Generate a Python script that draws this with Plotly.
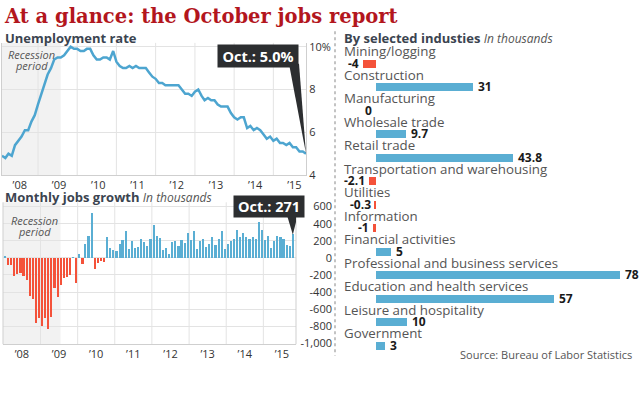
import pandas as pd
import plotly.graph_objects as go

# ---------------- data ----------------
months = pd.date_range("2008-01-01", "2015-10-01", freq="MS")

unemployment_rate = [
    4.9, 4.8, 5.0, 4.9, 5.4, 5.6, 5.8, 6.1, 6.1, 6.5, 6.8, 7.3,      # 2008
    7.8, 8.3, 8.7, 9.0, 9.4, 9.5, 9.5, 9.6, 9.8, 10.0, 9.9, 9.9,     # 2009
    9.8, 9.8, 9.9, 9.9, 9.6, 9.4, 9.4, 9.5, 9.5, 9.4, 9.8, 9.3,      # 2010
    9.1, 9.0, 9.0, 9.1, 9.0, 9.1, 9.0, 9.0, 9.0, 8.8, 8.6, 8.5,      # 2011
    8.3, 8.3, 8.2, 8.2, 8.2, 8.2, 8.2, 8.0, 7.8, 7.8, 7.7, 7.9,      # 2012
    8.0, 7.7, 7.5, 7.6, 7.5, 7.5, 7.3, 7.2, 7.2, 7.2, 6.9, 6.7,      # 2013
    6.6, 6.7, 6.7, 6.2, 6.3, 6.1, 6.2, 6.1, 5.9, 5.7, 5.8, 5.6,      # 2014
    5.7, 5.5, 5.5, 5.4, 5.5, 5.3, 5.3, 5.1, 5.1, 5.0,                # 2015
]

jobs_change = [
    15, -91, -83, -216, -189, -178, -216, -265, -455, -481, -765, -701,   # 2008
    -803, -701, -830, -690, -356, -462, -322, -235, -227, -205, 4, -292,  # 2009
    40, -70, 160, 250, 520, -130, -60, -40, -50, 246, 117, 87,            # 2010
    76, 163, 208, 314, 95, 189, 117, 125, 212, 182, 133, 220,             # 2011
    380, 250, 230, 90, 110, 40, 180, 190, 140, 210, 170, 290,             # 2012
    200, 310, 106, 189, 212, 125, 163, 246, 152, 220, 314, 106,           # 2013
    163, 189, 220, 326, 239, 284, 246, 220, 246, 212, 420, 326,           # 2014
    200, 258, 115, 189, 255, 245, 215, 148, 137, 271,                     # 2015
]

industries = [
    "Mining/logging", "Construction", "Manufacturing", "Wholesale trade",
    "Retail trade", "Transportation and warehousing", "Utilities",
    "Information", "Financial activities", "Professional and business services",
    "Education and health services", "Leisure and hospitality", "Government",
]
industry_change = [-4, 31, 0, 9.7, 43.8, -2.1, -0.3, -1, 5, 78, 57, 10, 3]

year_labels = ["’08", "’09", "’10", "’11", "’12", "’13", "’14", "’15"]
years = list(range(2008, 2016))
rate_ticks = [4, 6, 8, 10]
rate_ticktext = ["4", "6", "8", "10%"]
jobs_ticks = [600, 400, 200, 0, -200, -400, -600, -800, -1000]
jobs_ticktext = ["600", "400", "200", "0", "-200", "-400", "-600", "-800", "-1,000"]
recession_start, recession_end = "2007-12-01", "2009-06-30"

# ---------------- layout helpers ----------------
W, H = 640, 393
def px(x):
    return x / W
def py(y):
    return 1 - y / H

FONT = "Open Sans"
BLUE = "#5aaed3"
LINE_BLUE = "#4da5d0"
RED = "#f4523a"
GRID = "#e3e3e3"
HEAD = "#3b4450"

fig = go.Figure()

# top: unemployment line
fig.add_trace(go.Scatter(
    x=months, y=unemployment_rate, mode="lines",
    line=dict(color=LINE_BLUE, width=2.5), xaxis="x", yaxis="y",
    hoverinfo="skip", showlegend=False))

# bottom: monthly jobs bars
fig.add_trace(go.Bar(
    x=months, y=jobs_change, xaxis="x2", yaxis="y2",
    marker=dict(color=[BLUE if v >= 0 else RED for v in jobs_change], line=dict(width=0)),
    width=21 * 86400000, showlegend=False, hoverinfo="skip"))

# right: industries
ind_idx = list(range(len(industries)))
fig.add_trace(go.Bar(
    x=industry_change, y=ind_idx, orientation="h", xaxis="x3", yaxis="y3",
    marker=dict(color=[BLUE if v >= 0 else RED for v in industry_change], line=dict(width=0)),
    width=0.34, showlegend=False, hoverinfo="skip"))

shapes = []
annotations = []

# recession bands
for xr, yr in (("x", "y domain"), ("x2", "y2 domain")):
    shapes.append(dict(type="rect", xref=xr, yref=yr, x0=recession_start, x1=recession_end,
                       y0=0, y1=1, fillcolor="#f2f2f2", line=dict(width=0), layer="below"))
# vertical year grid lines
for yv in years[:-1]:
    shapes.append(dict(type="line", xref="x", yref="y domain", x0=f"{yv}-12-01", x1=f"{yv}-12-01",
                       y0=0, y1=1, line=dict(color=GRID, width=1), layer="below"))
    shapes.append(dict(type="line", xref="x2", yref="y2 domain", x0=f"{yv}-12-15", x1=f"{yv}-12-15",
                       y0=0, y1=1, line=dict(color=GRID, width=1), layer="below"))
# bottom chart frame (left/right)
for xv in (0, 1):
    shapes.append(dict(type="line", xref="x2 domain", yref="y2 domain", x0=xv, x1=xv, y0=0, y1=1,
                       line=dict(color="#cfcfcf", width=1)))

# dotted separator
shapes.append(dict(type="line", xref="paper", yref="paper", x0=px(335), x1=px(335),
                   y0=py(28), y1=py(362), line=dict(color="#b0b0b0", width=1.5, dash="dot")))

# callout wedges (pixel offsets relative to the last data point)
shapes.append(dict(type="path", xref="x", yref="y", xsizemode="pixel", ysizemode="pixel",
                   xanchor=months[-1], yanchor=unemployment_rate[-1],
                   path="M 0 0 L -17 90 L -7 90 Z", fillcolor="#2c2e30", line=dict(width=0)))
shapes.append(dict(type="path", xref="x2", yref="y2", xsizemode="pixel", ysizemode="pixel",
                   xanchor=months[-1], yanchor=jobs_change[-1],
                   path="M 0 0 L -6 20 L 5 20 Z", fillcolor="#2c2e30", line=dict(width=0)))

# title and headings
annotations.append(dict(xref="paper", yref="paper", x=px(2), y=py(13), xanchor="left", yanchor="middle",
                        text="<b>At a glance: the October jobs report</b>", showarrow=False,
                        font=dict(family="DejaVu Serif", size=19.5, color="#b3161d")))
annotations.append(dict(xref="paper", yref="paper", x=px(3), y=py(35), xanchor="left", yanchor="middle",
                        text="<b>Unemployment rate</b>", showarrow=False,
                        font=dict(family=FONT, size=13, color=HEAD)))
annotations.append(dict(xref="paper", yref="paper", x=px(3), y=py(198.5), xanchor="left", yanchor="middle",
                        text="<b>Monthly jobs growth</b> <i><span style='font-size:12px;color:#555'>In thousands</span></i>",
                        showarrow=False, font=dict(family=FONT, size=13, color=HEAD)))
annotations.append(dict(xref="paper", yref="paper", x=px(342), y=py(35), xanchor="left", yanchor="middle",
                        text="<b>By selected industies</b> <i><span style='font-size:12px;color:#555'>In thousands</span></i>",
                        showarrow=False, font=dict(family=FONT, size=13, color=HEAD)))

# recession labels
for xc, y1, y2 in ((31, 52, 63), (34, 223, 234)):
    annotations.append(dict(xref="paper", yref="paper", x=px(xc), y=py(y1), xanchor="center", yanchor="middle",
                            text="<i>Recession</i>", showarrow=False, font=dict(family=FONT, size=11, color="#555")))
    annotations.append(dict(xref="paper", yref="paper", x=px(xc), y=py(y2), xanchor="center", yanchor="middle",
                            text="<i>period</i>", showarrow=False, font=dict(family=FONT, size=11, color="#555")))

# callout boxes
annotations.append(dict(xref="paper", yref="paper", x=px(258), y=py(53.5), xanchor="center", yanchor="middle",
                        text=f"<b>Oct.: {unemployment_rate[-1]:.1f}%</b>", showarrow=False,
                        bgcolor="#2c2e30", width=80, height=22, borderpad=0,
                        font=dict(family=FONT, size=14.5, color="white")))
annotations.append(dict(xref="paper", yref="paper", x=px(269), y=py(208), xanchor="center", yanchor="middle",
                        text=f"<b>Oct.: {jobs_change[-1]}</b>", showarrow=False,
                        bgcolor="#2c2e30", width=70, height=21, borderpad=0,
                        font=dict(family=FONT, size=14.5, color="white")))

# industry labels and values
for i, (name, v) in enumerate(zip(industries, industry_change)):
    annotations.append(dict(xref="paper", yref="y3", x=px(342), y=i, yshift=12, xanchor="left",
                            yanchor="middle", text=name, showarrow=False,
                            font=dict(family=FONT, size=13.3, color="#555")))
    annotations.append(dict(xref="x3", yref="y3", x=v, y=i, xanchor="left" if v > 0 else "right",
                            xshift=3 if v > 0 else -2, yanchor="middle", text=f"<b>{v:g}</b>",
                            showarrow=False, font=dict(family=FONT, size=12, color="#1a1a1a")))

annotations.append(dict(xref="paper", yref="paper", x=px(634), y=py(361), xanchor="right", yanchor="middle",
                        text="Source: Bureau of Labor Statistics", showarrow=False,
                        font=dict(family=FONT, size=11, color="#555")))

tickfont = dict(family=FONT, size=11, color="#333")

fig.update_layout(
    width=W, height=H, autosize=False,
    margin=dict(l=0, r=0, t=0, b=0),
    paper_bgcolor="white", plot_bgcolor="rgba(0,0,0,0)",
    showlegend=False, bargap=0,
    shapes=shapes, annotations=annotations,
    xaxis=dict(domain=[px(2), px(306)], range=["2008-01-01", "2015-10-01"], anchor="y",
               tickmode="array", tickvals=[f"{y}-06-15" for y in years], ticktext=year_labels,
               showgrid=False, zeroline=False, showline=True, linecolor="#cfcfcf",
               ticks="", tickfont=tickfont),
    yaxis=dict(domain=[py(176), py(40)], range=[4, 10.18], anchor="x", side="right",
               tickmode="array", tickvals=rate_ticks, ticktext=rate_ticktext,
               showgrid=True, gridcolor=GRID, zeroline=False,
               showline=True, mirror=True, linecolor="#cfcfcf", ticks="", tickfont=tickfont),
    xaxis2=dict(domain=[px(3), px(296)], range=["2007-12-12", "2015-11-01"], anchor="y2",
                tickmode="array", tickvals=[f"{y}-06-15" for y in years], ticktext=year_labels,
                showgrid=False, zeroline=False, showline=True, linecolor="#cfcfcf",
                ticks="", tickfont=tickfont),
    yaxis2=dict(domain=[py(350), py(204)], range=[-1010, 650], anchor="free",
                position=px(332), side="left",
                tickmode="array", tickvals=jobs_ticks, ticktext=jobs_ticktext,
                showgrid=True, gridcolor=GRID, zeroline=False, showline=False,
                ticks="", tickfont=tickfont),
    xaxis3=dict(domain=[px(343), px(630)], range=[-10.45, 81.25], anchor="y3",
                visible=False),
    yaxis3=dict(domain=[py(363), py(48.9)], range=[12.5, -0.5], anchor="x3", visible=False),
)

fig.write_html("out.html", config={"displayModeBar": False},
               post_script="document.body.style.margin='0px';")
